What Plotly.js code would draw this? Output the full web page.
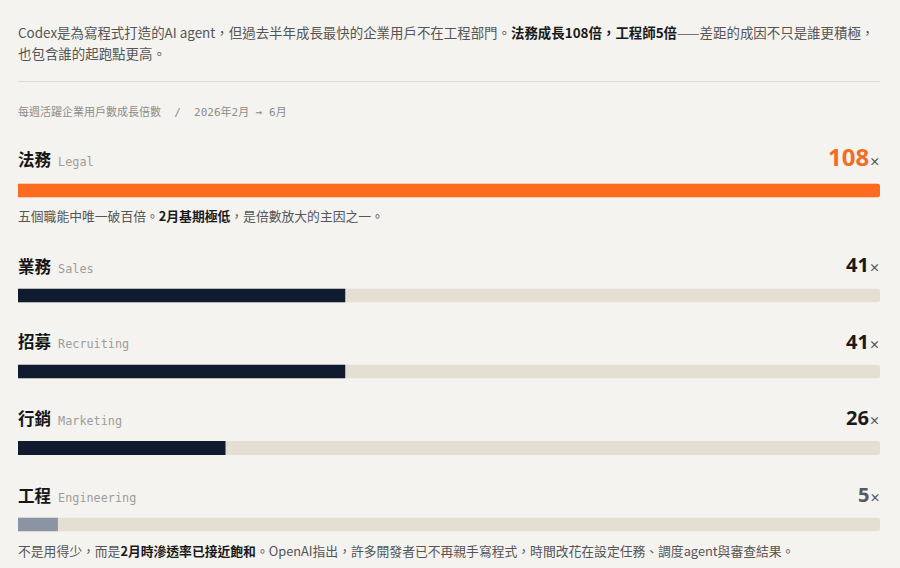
<!DOCTYPE html>
<html><head><meta charset="utf-8">
<script src="https://cdn.plot.ly/plotly-3.0.1.min.js"></script>
<style>html,body{margin:0;padding:0;background:#f4f3ef;}#chart{width:900px;height:568px;}</style>
</head><body><div id="chart"></div>
<script>
const categories = ['法務','業務','招募','行銷','工程'];
const englishNames = ['Legal','Sales','Recruiting','Marketing','Engineering'];
const growth = [108,41,41,26,5];
const barColors = ['#fe6a1e','#101b2f','#101b2f','#101b2f','#8a94a2'];
const valueColors = ['#f36d25','#1a1a1a','#1a1a1a','#1a1a1a','#555a61'];
const valueSizes = [24,20,20,20,20];
const headerLines = ['Codex是為寫程式打造的AI agent，但過去半年成長最快的企業用戶不在工程部門。<b><span style="color:#1a1a1a">法務成長108倍，工程師5倍</span></b>——差距的成因不只是誰更積極，',
                     '也包含誰的起跑點更高。'];
const subtitleText = '每週活躍企業用戶數成長倍數  /  2026年2月 → 6月';
const notes = {0:'五個職能中唯一破百倍。<b><span style="color:#1a1a1a">2月基期極低</span></b>，是倍數放大的主因之一。',
               4:'不是用得少，而是<b><span style="color:#1a1a1a">2月時滲透率已接近飽和</span></b>。OpenAI指出，許多開發者已不再親手寫程式，時間改花在設定任務、調度agent與審查結果。'};

const H = 568;
const barTop = [183.5, 288.5, 364.5, 441, 517.5];
const barH = 14;
const labelY = [158.5, 265.5, 341.5, 417.5, 494.5];
const valueY = [156, 264, 341, 417, 494];
const noteY = {0:215, 4:550};
const headerY = [32, 53];
const py = p => 1 - p / H;
const xMax = Math.max(...growth);
const trackColor = '#e5dfd3';
const XS = -2;

const data = [];
const layout = {
  width: 900, height: H,
  margin: {l: 18, r: 20, t: 0, b: 0, pad: 0},
  paper_bgcolor: '#f4f3ef', plot_bgcolor: 'rgba(0,0,0,0)',
  barmode: 'overlay', showlegend: false,
  font: {family: '"Noto Sans CJK TC", "Noto Sans", sans-serif', color: '#555'},
  xaxis: {range: [0, xMax], visible: false, fixedrange: true},
  annotations: [], shapes: []
};

categories.forEach((c, i) => {
  const ya = i === 0 ? 'y' : 'y' + (i + 1);
  const yk = i === 0 ? 'yaxis' : 'yaxis' + (i + 1);
  layout[yk] = {domain: [py(barTop[i] + barH), py(barTop[i])], range: [-0.5, 0.5], visible: false, fixedrange: true, type: 'category'};
  data.push({type: 'bar', orientation: 'h', x: [xMax], y: [c], xaxis: 'x', yaxis: ya, width: 1,
             marker: {color: trackColor, cornerradius: 3}, hoverinfo: 'skip'});
  data.push({type: 'bar', orientation: 'h', x: [growth[i]], y: [c], xaxis: 'x', yaxis: ya, width: 1,
             marker: {color: barColors[i], cornerradius: 3}, hoverinfo: 'skip'});
  layout.annotations.push({xref: 'paper', yref: 'paper', x: 0, y: py(labelY[i]), xanchor: 'left', yanchor: 'middle', showarrow: false, xshift: XS,
    text: '<b><span style="font-size:16.5px;color:#151515">' + c + '</span></b><span style="font-family:\'DejaVu Sans Mono\',monospace;font-size:11.8px;color:#9d9d9a"> ' + englishNames[i] + '</span>'});
  layout.annotations.push({xref: 'paper', yref: 'paper', x: 1, y: py(valueY[i]), xanchor: 'right', yanchor: 'middle', showarrow: false, xshift: 2,
    text: '<b><span style="font-family:\'Noto Sans\',sans-serif;font-size:' + valueSizes[i] + 'px;color:' + valueColors[i] + '">' + growth[i] + '</span></b><b><span style="font-size:11px;color:#555">×</span></b>'});
  if (notes[i]) {
    layout.annotations.push({xref: 'paper', yref: 'paper', x: 0, y: py(noteY[i]), xanchor: 'left', yanchor: 'middle', showarrow: false, xshift: XS,
      text: notes[i], font: {size: 12.8, color: '#555'}});
  }
});

headerLines.forEach((t, k) => {
  layout.annotations.push({xref: 'paper', yref: 'paper', x: 0, y: py(headerY[k]), xanchor: 'left', yanchor: 'middle', align: 'left', showarrow: false, xshift: XS,
    text: t, font: {size: 13.45, color: '#555'}});
});
layout.annotations.push({xref: 'paper', yref: 'paper', x: 0, y: py(112), xanchor: 'left', yanchor: 'middle', showarrow: false, xshift: XS,
  text: subtitleText, font: {family: '"DejaVu Sans Mono", "Noto Sans CJK TC", monospace', size: 11, color: '#8d8d8a'}});
layout.shapes.push({type: 'line', xref: 'paper', yref: 'paper', x0: 0, x1: 1, y0: py(81.5), y1: py(81.5), line: {color: '#dcdbd6', width: 1}});

Plotly.newPlot('chart', data, layout, {displayModeBar: false, staticPlot: true});
</script></body></html>
